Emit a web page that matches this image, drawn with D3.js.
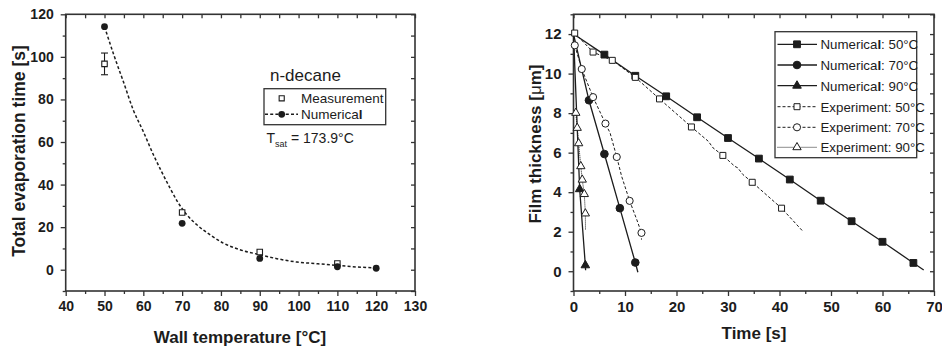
<!DOCTYPE html>
<html><head><meta charset="utf-8">
<script src="https://cdn.jsdelivr.net/npm/d3@7"></script>
<style>
body{margin:0;background:#fff;}
svg{display:block;font-family:"Liberation Sans",Arial,sans-serif;}
</style></head>
<body><svg id="c" width="942" height="352"></svg>
<script>
// ---------- Left chart data ----------
const leftXTicks = [40,50,60,70,80,90,100,110,120,130];
const leftYTicks = [0,20,40,60,80,100,120];
const measT = [50,70,90,110];
const measV = [96.7,26.9,8.3,2.9];
const measErr = [5.1,0,0,0];
const numT = [50,70,90,110,120];
const numV = [114.2,21.8,5.3,1.4,0.7];
const fitT = [50,52.7,54.85,57.4,60,62.6,64.7,66.9,68.8,71.2,73.8,77.2,80.6,84.9,90.1,94.4,99.6,105,110,115,120];
const fitV = [114.2,99.3,88.4,75.1,64.9,54.0,46.1,38.3,32.0,25.8,21.1,16.4,12.5,9.4,7.0,5.2,3.6,2.8,2.0,1.3,0.8];

// ---------- Right chart data ----------
const rightXTicks = [0,10,20,30,40,50,60,70];
const rightYTicks = [0,2,4,6,8,10,12];
// [time, thickness, marker?]
const num50 = [[0,12.0,0],[6,10.96,1],[12,9.89,1],[18,8.85,1],[24,7.79,1],[30,6.74,1],[36,5.70,1],[42,4.64,1],[48,3.57,1],[54,2.53,1],[60,1.49,1],[66,0.42,1],[68,0.06,0]];
const num70 = [[0,12.0,0],[3,8.65,1],[6,5.93,1],[9,3.19,1],[12,0.44,1],[12.5,-0.05,0]];
const num90 = [[0,12.0,0],[1.2,4.15,1],[2.3,0.3,1],[2.35,0.05,0]];
const exp50 = [[0.23,12.05,1],[3.8,11.09,1],[7.53,10.67,1],[12.0,9.81,1],[16.7,8.72,1],[22.9,7.30,1],[26.2,6.57,0],[27.1,6.24,0],[29.0,5.86,1],[31.3,5.31,0],[31.9,5.23,0],[32.9,4.89,0],[34.7,4.50,1],[40.4,3.19,1],[44.4,2.06,0]];
const exp70 = [[0.25,11.43,1],[1.6,10.23,1],[3.8,8.81,1],[6.2,7.47,1],[7.1,7.0,0],[8.4,5.78,1],[9.35,4.8,0],[10.9,3.56,1],[12.3,2.6,0],[13.2,1.94,1],[13.2,1.6,0]];
const exp90 = [[0.45,8.01,1],[0.72,7.25,1],[1.0,6.47,1],[1.42,5.31,1],[1.7,4.63,1],[2.1,3.9,1],[2.3,2.92,1],[2.33,2.1,0]];
const legendLabels = ["Numerical: 50","Numerical: 70","Numerical: 90","Experiment: 50","Experiment: 70","Experiment: 90"];

const INK = "#1c1c1c";
const svg = d3.select("#c");

function frame(g, x, y){
  const [x0,x1]=x.range(), [y0,y1]=y.range();
  g.append("rect").attr("x",x0).attr("y",y1).attr("width",x1-x0).attr("height",y0-y1)
   .attr("fill","none").attr("stroke","#333").attr("stroke-width",1.6);
}
function styleAxis(sel, fs){
  sel.select(".domain").remove();
  sel.selectAll("line").attr("stroke","#333").attr("stroke-width",1.3);
  sel.selectAll("text").attr("fill",INK).style("font-size",fs+"px").style("font-weight","bold")
     .style("font-family",'"Liberation Sans",Arial,sans-serif');
}
function axes(g, x, y, xMaj, xMin, yMaj, yMin, fs){
  const [x0,x1]=x.range(), [y0,y1]=y.range();
  g.append("g").attr("transform",`translate(0,${y0})`).call(d3.axisBottom(x).tickValues(xMaj).tickSize(5).tickSizeOuter(0).tickPadding(5)).call(s=>styleAxis(s,fs));
  g.append("g").attr("transform",`translate(0,${y0})`).call(d3.axisBottom(x).tickValues(xMin).tickSize(3).tickFormat("")).call(s=>styleAxis(s,fs));
  g.append("g").attr("transform",`translate(0,${y1})`).call(d3.axisTop(x).tickValues(xMaj.concat(xMin)).tickSize(-4).tickFormat("")).call(s=>styleAxis(s,fs));
  g.append("g").attr("transform",`translate(${x0},0)`).call(d3.axisLeft(y).tickValues(yMaj).tickSize(5).tickSizeOuter(0).tickPadding(7)).call(s=>styleAxis(s,fs));
  g.append("g").attr("transform",`translate(${x0},0)`).call(d3.axisLeft(y).tickValues(yMin).tickSize(3).tickFormat("")).call(s=>styleAxis(s,fs));
  g.append("g").attr("transform",`translate(${x1},0)`).call(d3.axisRight(y).tickValues(yMaj.concat(yMin)).tickSize(-4).tickFormat("")).call(s=>styleAxis(s,fs));
  frame(g,x,y);
}
function degText(sel, pre, post){
  sel.append("tspan").text(pre + "°" + post);
}
function numLabel(sel, rest){
  sel.append("tspan").text("Numerica");
  sel.append("tspan").text("l").style("font-weight","bold");
  degText(sel, rest, "C");
}
const sym = (type,size)=>d3.symbol().type(type).size(size)();

// ================= LEFT CHART =================
const xL = d3.scaleLinear([40,130],[65.7,415]);
const yL = d3.scaleLinear([-10,120],[291,14.3]);
const gL = svg.append("g");
axes(gL, xL, yL, leftXTicks, d3.range(45,130,10), leftYTicks, [-10,10,30,50,70,90,110], 14);

// fit curve
gL.append("path").datum(fitT.map((t,i)=>[t,fitV[i]]))
  .attr("d", d3.line().x(d=>xL(d[0])).y(d=>yL(d[1])).curve(d3.curveMonotoneX))
  .attr("fill","none").attr("stroke",INK).attr("stroke-width",1.5).attr("stroke-dasharray","3,2.2");
// error bars
measT.forEach((t,i)=>{
  if(measErr[i]>0){
    const cx=xL(t);
    gL.append("line").attr("x1",cx).attr("x2",cx).attr("y1",yL(measV[i]-measErr[i])).attr("y2",yL(measV[i]+measErr[i])).attr("stroke",INK).attr("stroke-width",1.1);
    [measV[i]-measErr[i],measV[i]+measErr[i]].forEach(v=>gL.append("line").attr("x1",cx-3.5).attr("x2",cx+3.5).attr("y1",yL(v)).attr("y2",yL(v)).attr("stroke",INK).attr("stroke-width",1.1));
  }
});
// measurement squares
gL.selectAll(".ms").data(measT).enter().append("path")
  .attr("d",sym(d3.symbolSquare,30)).attr("transform",(d,i)=>`translate(${xL(d)},${yL(measV[i])})`)
  .attr("fill","#fff").attr("stroke",INK).attr("stroke-width",1.1);
// numerical circles
gL.selectAll(".nc").data(numT).enter().append("circle")
  .attr("cx",d=>xL(d)).attr("cy",(d,i)=>yL(numV[i])).attr("r",3.4).attr("fill",INK);

// left annotations
gL.append("text").attr("x",270).attr("y",81).style("font-size","17px").attr("fill",INK).text("n-decane");
gL.append("rect").attr("x",264).attr("y",88.7).attr("width",121.7).attr("height",36).attr("fill","#fff").attr("stroke","#333").attr("stroke-width",1.3);
gL.append("path").attr("d",sym(d3.symbolSquare,26)).attr("transform","translate(281.7,98.3)").attr("fill","#fff").attr("stroke",INK).attr("stroke-width",1.1);
gL.append("text").attr("x",301).attr("y",103).style("font-size","13.5px").attr("fill",INK).text("Measurement");
gL.append("line").attr("x1",265).attr("x2",298).attr("y1",114.3).attr("y2",114.3).attr("stroke",INK).attr("stroke-width",1.4).attr("stroke-dasharray","3,2.2");
gL.append("circle").attr("cx",281.7).attr("cy",114.3).attr("r",3.4).attr("fill",INK);
{ const t=gL.append("text").attr("x",301).attr("y",119).style("font-size","13.5px").attr("fill",INK);
  t.append("tspan").text("Numerica"); t.append("tspan").text("l").style("font-weight","bold"); }
{ const t=gL.append("text").attr("x",266.5).attr("y",142.7).style("font-size","14px").attr("fill",INK);
  t.append("tspan").text("T");
  t.append("tspan").text("sat").style("font-size","9px").attr("dy","4");
  t.append("tspan").text(" = 173.9°C").attr("dy","-4"); }
// titles
{ const t=gL.append("text").attr("x",240).attr("y",343).attr("text-anchor","middle").style("font-size","17px").style("font-weight","bold").attr("fill",INK);
  degText(t,"Wall temperature [","C]"); }
gL.append("text").attr("transform","translate(25,151) rotate(-90)").attr("text-anchor","middle")
  .style("font-size","17.5px").style("font-weight","bold").attr("fill",INK).text("Total evaporation time [s]");

// ================= RIGHT CHART =================
const xR = d3.scaleLinear([0,70],[573.5,934]);
const yR = d3.scaleLinear([-1,13],[291,14.3]);
const gR = svg.append("g");
axes(gR, xR, yR, rightXTicks, d3.range(5,70,10), rightYTicks, [-1,1,3,5,7,9,11,13], 15);

const lineR = d3.line().x(d=>xR(d[0])).y(d=>yR(d[1]));
const series = [
  {d:num50, dash:null, w:1.3, mk:"sq", fill:INK},
  {d:num70, dash:null, w:1.3, mk:"ci", fill:INK},
  {d:num90, dash:null, w:1.3, mk:"tr", fill:INK},
  {d:exp50, dash:"3,2", w:1.0, mk:"sq", fill:"#fff"},
  {d:exp70, dash:"3,2", w:1.0, mk:"ci", fill:"#fff"},
  {d:exp90, dash:"1,1", w:1.0, mk:"tr", fill:"#fff"}
];
function marker(g, s, x, y){
  if(s.mk==="sq") g.append("path").attr("d",sym(d3.symbolSquare,s.fill==="#fff"?36:46));
  else if(s.mk==="ci") g.append("path").attr("d",sym(d3.symbolCircle,s.fill==="#fff"?40:46));
  else g.append("path").attr("d",sym(d3.symbolTriangle,s.fill==="#fff"?30:32));
  g.attr("transform",`translate(${x},${y})`).select("path").attr("fill",s.fill).attr("stroke",INK).attr("stroke-width",1);
}
[3,4,5,0,1,2].forEach(k=>{
  const s=series[k];
  gR.append("path").datum(s.d).attr("d",lineR).attr("fill","none").attr("stroke",INK)
    .attr("stroke-width",s.w).attr("stroke-dasharray",s.dash);
});
[0,1,2,3,4,5].forEach(k=>{
  const s=series[k];
  s.d.filter(p=>p[2]).forEach(p=>marker(gR.append("g"),s,xR(p[0]),yR(p[1])));
});

// right legend
gR.append("rect").attr("x",775).attr("y",31.7).attr("width",141.7).attr("height",126).attr("fill","#fff").attr("stroke","#333").attr("stroke-width",1.3);
const rowY=[44.3,65,85.7,106.7,127.3,147.3];
series.forEach((s,i)=>{
  gR.append("line").attr("x1",777.5).attr("x2",817).attr("y1",rowY[i]).attr("y2",rowY[i]).attr("stroke",INK)
    .attr("stroke-width",s.w).attr("stroke-dasharray",s.dash);
  marker(gR.append("g"),s,797,rowY[i]);
  const t=gR.append("text").attr("x",820.5).attr("y",rowY[i]+5).style("font-size","13.3px").attr("fill",INK);
  if(i<3){ numLabel(t, legendLabels[i].replace("Numerical","")); }
  else degText(t, legendLabels[i], "C");
});
// titles
gR.append("text").attr("x",754).attr("y",339).attr("text-anchor","middle").style("font-size","17px").style("font-weight","bold").attr("fill",INK).text("Time [s]");
{ const t=gR.append("text").attr("transform","translate(541,144) rotate(-90)").attr("text-anchor","middle")
   .style("font-size","17px").style("font-weight","bold").attr("fill",INK);
  t.append("tspan").text("Film thickness [");
  t.append("tspan").text("μ").style("font-weight","normal");
  t.append("tspan").text("m]"); }
</script></body></html>
